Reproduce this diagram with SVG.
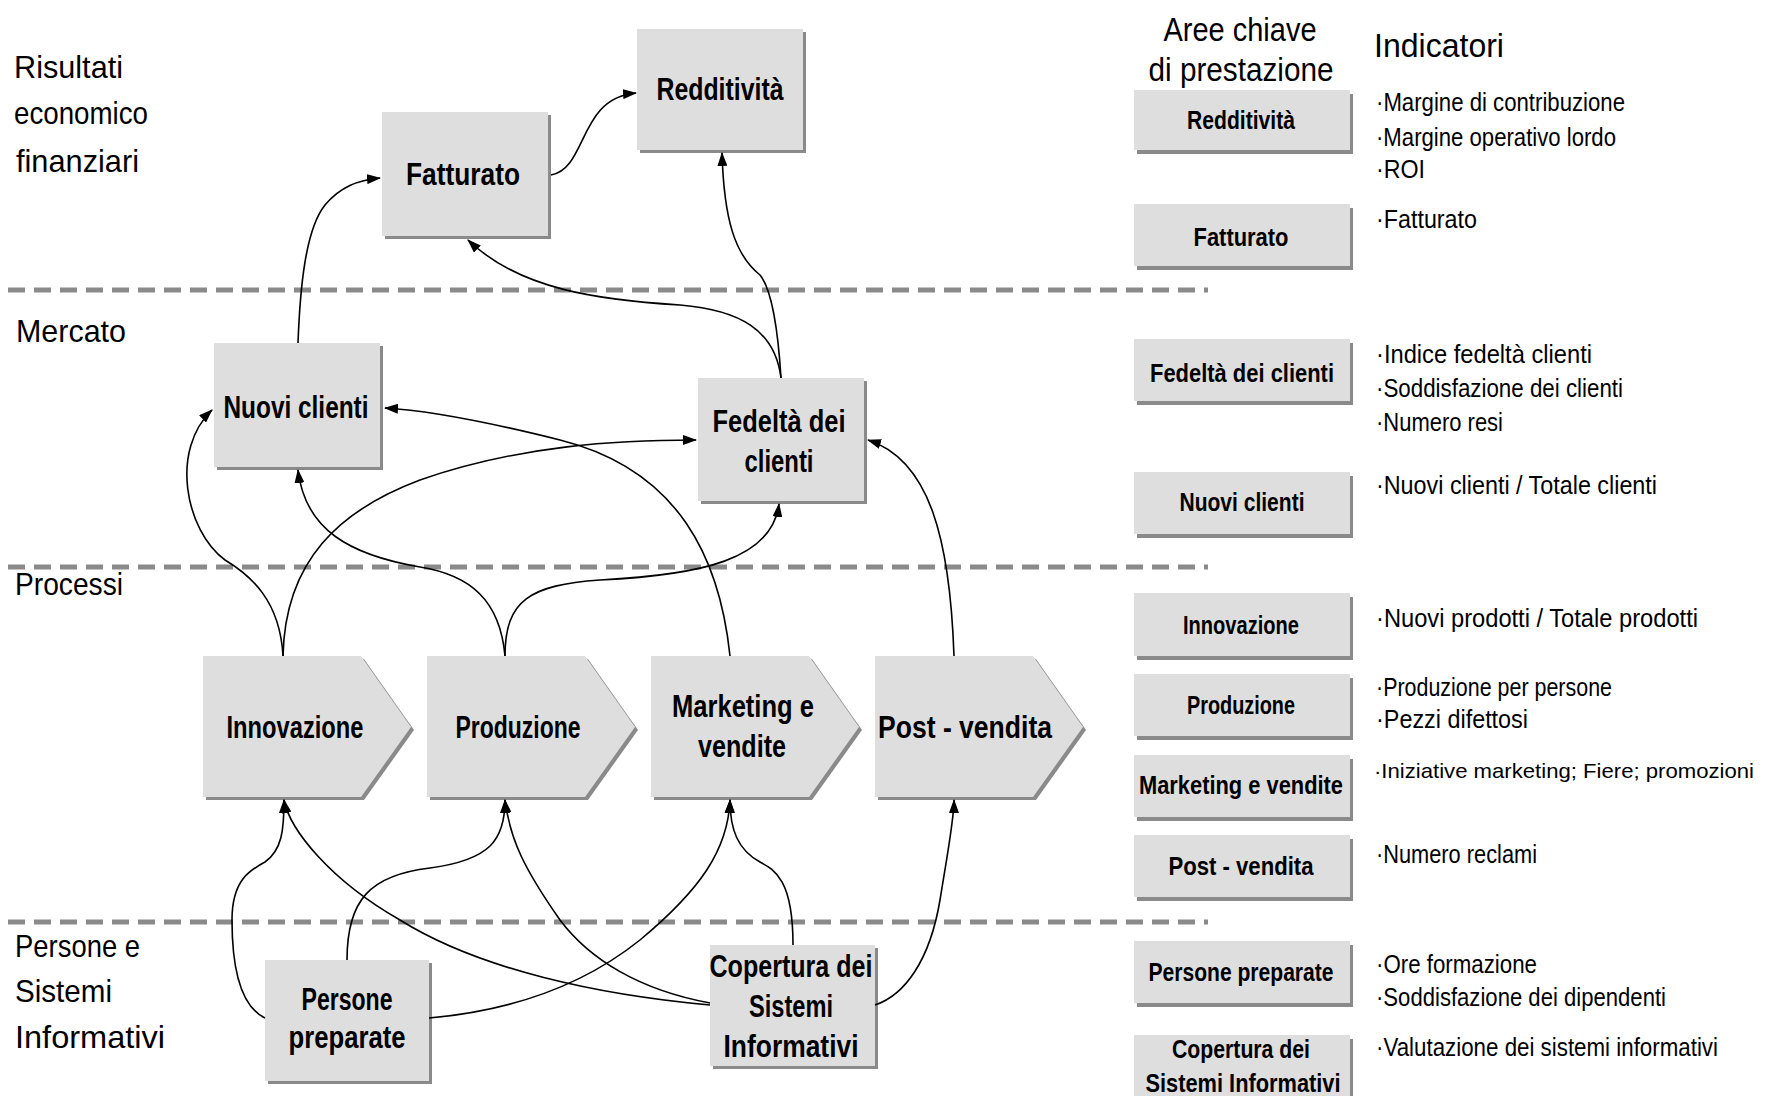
<svg xmlns="http://www.w3.org/2000/svg" width="1766" height="1096" viewBox="0 0 1766 1096">
<defs>
<marker id="ah" viewBox="0 0 14 10" refX="13" refY="5" markerWidth="14" markerHeight="10" markerUnits="userSpaceOnUse" orient="auto">
<path d="M0,0 L14,5 L0,10 Z" fill="#000"/>
</marker>
</defs>
<style>
.lbl{font-family:"Liberation Sans",Arial,sans-serif;font-size:32px;fill:#000}
.nt{font-family:"Liberation Sans",Arial,sans-serif;font-weight:bold;font-size:31px;fill:#000;text-anchor:middle}
.rt{font-family:"Liberation Sans",Arial,sans-serif;font-weight:bold;font-size:25px;fill:#000;text-anchor:middle}
.ind{font-family:"Liberation Sans",Arial,sans-serif;font-size:25px;fill:#000}
.hdr{font-family:"Liberation Sans",Arial,sans-serif;font-size:34px;fill:#000}
.box{fill:#dedede}
.sh{fill:#8a8a8a}
.dash{stroke:#8a8a8a;stroke-width:5;stroke-dasharray:17 9;fill:none}
.c{fill:none;stroke:#000;stroke-width:1.6;marker-end:url(#ah)}
</style>
<rect width="1766" height="1096" fill="#fff"/>

<g id="separators">
<line class="dash" x1="8" y1="290" x2="1208" y2="290"/>
<line class="dash" x1="8" y1="567" x2="1208" y2="567"/>
<line class="dash" x1="8" y1="922" x2="1208" y2="922"/>
</g>

<g id="lane-labels">
<text class="lbl" x="14" y="78" textLength="109" lengthAdjust="spacingAndGlyphs">Risultati</text>
<text class="lbl" x="14" y="124" textLength="134" lengthAdjust="spacingAndGlyphs">economico</text>
<text class="lbl" x="16" y="172" textLength="123" lengthAdjust="spacingAndGlyphs">finanziari</text>
<text class="lbl" x="16" y="342" textLength="110" lengthAdjust="spacingAndGlyphs">Mercato</text>
<text class="lbl" x="15" y="595" textLength="108" lengthAdjust="spacingAndGlyphs">Processi</text>
<text class="lbl" x="15" y="957" textLength="125" lengthAdjust="spacingAndGlyphs">Persone e</text>
<text class="lbl" x="15" y="1002" textLength="97" lengthAdjust="spacingAndGlyphs">Sistemi</text>
<text class="lbl" x="15" y="1048" textLength="150" lengthAdjust="spacingAndGlyphs">Informativi</text>
</g>

<g id="node-redditivita">
<rect class="sh" x="640" y="32" width="166" height="121"/>
<rect class="box" x="637" y="29" width="166" height="121"/>
<text class="nt" x="720" y="100" textLength="127" lengthAdjust="spacingAndGlyphs">Redditività</text>
</g>
<g id="node-fatturato">
<rect class="sh" x="385" y="115" width="166" height="124"/>
<rect class="box" x="382" y="112" width="166" height="124"/>
<text class="nt" x="463" y="185" textLength="114" lengthAdjust="spacingAndGlyphs">Fatturato</text>
</g>
<g id="node-nuovi-clienti">
<rect class="sh" x="217" y="346" width="166" height="124"/>
<rect class="box" x="214" y="343" width="166" height="124"/>
<text class="nt" x="296" y="418" textLength="145" lengthAdjust="spacingAndGlyphs">Nuovi clienti</text>
</g>
<g id="node-fedelta">
<rect class="sh" x="701" y="381" width="166" height="123"/>
<rect class="box" x="698" y="378" width="166" height="123"/>
<text class="nt" x="779" y="432" textLength="133" lengthAdjust="spacingAndGlyphs">Fedeltà dei</text>
<text class="nt" x="779" y="472" textLength="69" lengthAdjust="spacingAndGlyphs">clienti</text>
</g>

<g id="node-innovazione">
<polygon class="sh" points="206,659 364,659 414,730 364,800 206,800"/>
<polygon class="box" points="203,656 361,656 411,727 361,797 203,797"/>
<text class="nt" x="295" y="738" textLength="137" lengthAdjust="spacingAndGlyphs">Innovazione</text>
</g>
<g id="node-produzione">
<polygon class="sh" points="430,659 588,659 638,730 588,800 430,800"/>
<polygon class="box" points="427,656 585,656 635,727 585,797 427,797"/>
<text class="nt" x="518" y="738" textLength="125" lengthAdjust="spacingAndGlyphs">Produzione</text>
</g>
<g id="node-marketing">
<polygon class="sh" points="654,659 812,659 862,730 812,800 654,800"/>
<polygon class="box" points="651,656 809,656 859,727 809,797 651,797"/>
<text class="nt" x="743" y="717" textLength="142" lengthAdjust="spacingAndGlyphs">Marketing e</text>
<text class="nt" x="742" y="757" textLength="88" lengthAdjust="spacingAndGlyphs">vendite</text>
</g>
<g id="node-post-vendita">
<polygon class="sh" points="878,659 1036,659 1086,730 1036,800 878,800"/>
<polygon class="box" points="875,656 1033,656 1083,727 1033,797 875,797"/>
<text class="nt" x="965" y="738" textLength="174" lengthAdjust="spacingAndGlyphs">Post - vendita</text>
</g>

<g id="node-persone">
<rect class="sh" x="268" y="963" width="164" height="121"/>
<rect class="box" x="265" y="960" width="164" height="121"/>
<text class="nt" x="347" y="1010" textLength="91" lengthAdjust="spacingAndGlyphs">Persone</text>
<text class="nt" x="347" y="1048" textLength="117" lengthAdjust="spacingAndGlyphs">preparate</text>
</g>
<g id="node-copertura">
<rect class="sh" x="713" y="948" width="165" height="121"/>
<rect class="box" x="710" y="945" width="165" height="121"/>
<text class="nt" x="791" y="977" textLength="163" lengthAdjust="spacingAndGlyphs">Copertura dei</text>
<text class="nt" x="791" y="1017" textLength="84" lengthAdjust="spacingAndGlyphs">Sistemi</text>
<text class="nt" x="791" y="1057" textLength="135" lengthAdjust="spacingAndGlyphs">Informativi</text>
</g>

<g id="connectors">
<path class="c" d="M551,175 C588,168 578,98 636,93"/>
<path class="c" d="M298,343 C300,290 305,230 325,205 C340,187 358,180 380,178"/>
<path class="c" d="M781,378 C775,330 740,310 680,305 C600,300 520,290 468,240"/>
<path class="c" d="M781,378 C778,330 772,290 760,275 C735,255 724,220 722,153"/>
<path class="c" d="M283,656 C280,600 250,575 225,560 C185,530 170,450 212,410"/>
<path class="c" d="M283,656 C285,560 340,510 420,480 C520,445 620,440 696,440"/>
<path class="c" d="M505,656 C500,600 470,575 420,567 C350,555 305,530 298,470"/>
<path class="c" d="M505,656 C505,600 530,585 600,580 C700,575 772,560 779,504"/>
<path class="c" d="M730,656 C720,560 680,470 560,440 C480,420 420,410 385,408"/>
<path class="c" d="M954,656 C950,540 930,460 868,440"/>
<path class="c" d="M265,1018 C238,1005 232,960 232,920 C232,880 250,870 265,862 C282,850 284,830 284,800"/>
<path class="c" d="M347,960 C347,900 370,875 430,868 C490,860 505,840 505,800"/>
<path class="c" d="M429,1018 C520,1010 590,980 640,940 C700,890 728,850 730,800"/>
<path class="c" d="M710,1005 C600,995 480,970 400,920 C330,880 290,830 284,800"/>
<path class="c" d="M710,1003 C640,990 590,960 560,920 C525,870 510,840 505,800"/>
<path class="c" d="M793,945 C793,880 775,870 760,862 C738,850 730,830 730,800"/>
<path class="c" d="M875,1005 C905,995 930,960 940,900 C948,850 954,820 954,800"/>
</g>

<g id="panel-headers">
<text class="hdr" x="1240" y="41" text-anchor="middle" textLength="153" lengthAdjust="spacingAndGlyphs">Aree chiave</text>
<text class="hdr" x="1241" y="81" text-anchor="middle" textLength="185" lengthAdjust="spacingAndGlyphs">di prestazione</text>
<text class="hdr" x="1374" y="57" textLength="130" lengthAdjust="spacingAndGlyphs">Indicatori</text>
</g>

<g id="kpa-redditivita">
<rect class="sh" x="1137" y="94" width="216" height="60"/>
<rect class="box" x="1134" y="90" width="216" height="60"/>
<text class="rt" x="1241" y="129" textLength="108" lengthAdjust="spacingAndGlyphs">Redditività</text>
</g>
<g id="kpa-fatturato">
<rect class="sh" x="1137" y="208" width="216" height="62"/>
<rect class="box" x="1134" y="204" width="216" height="62"/>
<text class="rt" x="1241" y="246" textLength="95" lengthAdjust="spacingAndGlyphs">Fatturato</text>
</g>
<g id="kpa-fedelta">
<rect class="sh" x="1137" y="343" width="216" height="62"/>
<rect class="box" x="1134" y="339" width="216" height="62"/>
<text class="rt" x="1242" y="382" textLength="184" lengthAdjust="spacingAndGlyphs">Fedeltà dei clienti</text>
</g>
<g id="kpa-nuovi">
<rect class="sh" x="1137" y="476" width="216" height="62"/>
<rect class="box" x="1134" y="472" width="216" height="62"/>
<text class="rt" x="1242" y="511" textLength="125" lengthAdjust="spacingAndGlyphs">Nuovi clienti</text>
</g>
<g id="kpa-innovazione">
<rect class="sh" x="1137" y="597" width="216" height="63"/>
<rect class="box" x="1134" y="593" width="216" height="63"/>
<text class="rt" x="1241" y="634" textLength="116" lengthAdjust="spacingAndGlyphs">Innovazione</text>
</g>
<g id="kpa-produzione">
<rect class="sh" x="1137" y="678" width="216" height="62"/>
<rect class="box" x="1134" y="674" width="216" height="62"/>
<text class="rt" x="1241" y="714" textLength="108" lengthAdjust="spacingAndGlyphs">Produzione</text>
</g>
<g id="kpa-marketing">
<rect class="sh" x="1137" y="759" width="216" height="62"/>
<rect class="box" x="1134" y="755" width="216" height="62"/>
<text class="rt" x="1241" y="794" textLength="204" lengthAdjust="spacingAndGlyphs">Marketing e vendite</text>
</g>
<g id="kpa-post-vendita">
<rect class="sh" x="1137" y="839" width="216" height="62"/>
<rect class="box" x="1134" y="835" width="216" height="62"/>
<text class="rt" x="1241" y="875" textLength="145" lengthAdjust="spacingAndGlyphs">Post - vendita</text>
</g>
<g id="kpa-persone">
<rect class="sh" x="1137" y="945" width="216" height="62"/>
<rect class="box" x="1134" y="941" width="216" height="62"/>
<text class="rt" x="1241" y="981" textLength="185" lengthAdjust="spacingAndGlyphs">Persone preparate</text>
</g>
<g id="kpa-copertura">
<rect class="sh" x="1137" y="1039" width="216" height="70"/>
<rect class="box" x="1134" y="1035" width="216" height="70"/>
<text class="rt" x="1241" y="1058" textLength="138" lengthAdjust="spacingAndGlyphs">Copertura dei</text>
<text class="rt" x="1243" y="1092" textLength="195" lengthAdjust="spacingAndGlyphs">Sistemi Informativi</text>
</g>

<g id="indicators">
<text class="ind" x="1376" y="111" textLength="249" lengthAdjust="spacingAndGlyphs">·Margine di contribuzione</text>
<text class="ind" x="1376" y="146" textLength="240" lengthAdjust="spacingAndGlyphs">·Margine operativo lordo</text>
<text class="ind" x="1376" y="178" textLength="49" lengthAdjust="spacingAndGlyphs">·ROI</text>
<text class="ind" x="1376" y="228" textLength="101" lengthAdjust="spacingAndGlyphs">·Fatturato</text>
<text class="ind" x="1376" y="363" textLength="216" lengthAdjust="spacingAndGlyphs">·Indice fedeltà clienti</text>
<text class="ind" x="1376" y="397" textLength="247" lengthAdjust="spacingAndGlyphs">·Soddisfazione dei clienti</text>
<text class="ind" x="1376" y="431" textLength="127" lengthAdjust="spacingAndGlyphs">·Numero resi</text>
<text class="ind" x="1376" y="494" textLength="281" lengthAdjust="spacingAndGlyphs">·Nuovi clienti / Totale clienti</text>
<text class="ind" x="1376" y="627" textLength="322" lengthAdjust="spacingAndGlyphs">·Nuovi prodotti / Totale prodotti</text>
<text class="ind" x="1376" y="696" textLength="236" lengthAdjust="spacingAndGlyphs">·Produzione per persone</text>
<text class="ind" x="1376" y="728" textLength="152" lengthAdjust="spacingAndGlyphs">·Pezzi difettosi</text>
<text class="ind" x="1374" y="778" style="font-size:21px" textLength="380" lengthAdjust="spacingAndGlyphs">·Iniziative marketing; Fiere; promozioni</text>
<text class="ind" x="1376" y="863" textLength="161" lengthAdjust="spacingAndGlyphs">·Numero reclami</text>
<text class="ind" x="1376" y="973" textLength="161" lengthAdjust="spacingAndGlyphs">·Ore formazione</text>
<text class="ind" x="1376" y="1006" textLength="290" lengthAdjust="spacingAndGlyphs">·Soddisfazione dei dipendenti</text>
<text class="ind" x="1376" y="1056" textLength="342" lengthAdjust="spacingAndGlyphs">·Valutazione dei sistemi informativi</text>
</g>
</svg>
